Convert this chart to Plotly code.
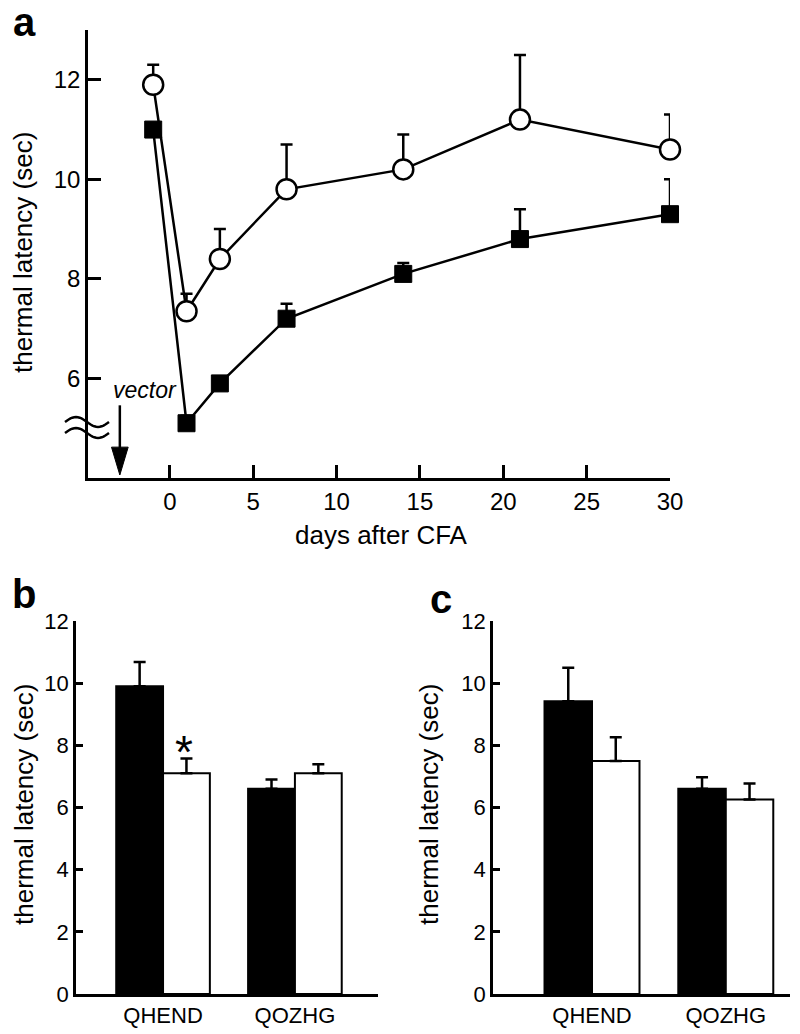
import numpy as np
import plotly.graph_objects as go

# ---------------- data ----------------
days = [-1, 1, 3, 7, 14, 21, 30]
open_mean = [11.9, 7.35, 8.4, 9.8, 10.2, 11.2, 10.6]
open_sem = [0.4, 0.35, 0.6, 0.9, 0.7, 1.3, 0.7]
filled_mean = [11.0, 5.1, 5.9, 7.2, 8.1, 8.8, 9.3]
filled_sem = [0.1, 0.15, 0.1, 0.3, 0.22, 0.6, 0.7]
vector_day = -3

x_ticks_a = [0, 5, 10, 15, 20, 25, 30]
y_ticks_a = [6, 8, 10, 12]
y_ticks_bc = [0, 2, 4, 6, 8, 10, 12]

categories = ["QHEND", "QOZHG"]
b_black = [9.9, 6.6]
b_black_sem = [0.78, 0.3]
b_white = [7.1, 7.1]
b_white_sem = [0.48, 0.29]
c_black = [9.42, 6.6]
c_black_sem = [1.08, 0.37]
c_white = [7.5, 6.26]
c_white_sem = [0.76, 0.51]

# the page body has an 8px margin, so the figure is drawn 8px in from the window edge
OFF = 8
W, H = 800 - OFF, 1034 - OFF
FONT = "Liberation Sans, Arial, Helvetica, sans-serif"


def px(x):
    return (x - OFF) / W


def py(y):
    return 1 - (y - OFF) / H


fig = go.Figure()

# ---------------- panel a ----------------
fig.add_trace(go.Scatter(
    x=days, y=open_mean, mode="lines+markers", xaxis="x", yaxis="y",
    line=dict(color="black", width=2.5),
    marker=dict(symbol="circle", size=20, color="white", line=dict(color="black", width=2.5)),
    error_y=dict(type="data", symmetric=False, array=open_sem, arrayminus=[0] * len(days),
                 color="black", thickness=2.5, width=6),
    cliponaxis=False, name="open"))
fig.add_trace(go.Scatter(
    x=days, y=filled_mean, mode="lines+markers", xaxis="x", yaxis="y",
    line=dict(color="black", width=2.5),
    marker=dict(symbol="square", size=17, color="black", line=dict(color="black", width=1)),
    error_y=dict(type="data", symmetric=False, array=filled_sem, arrayminus=[0] * len(days),
                 color="black", thickness=2.5, width=6),
    cliponaxis=False, name="filled"))

# ---------------- panels b, c ----------------
def add_bars(xa, ya, black, black_sem, white, white_sem):
    fig.add_trace(go.Bar(
        x=categories, y=black, xaxis=xa, yaxis=ya, offsetgroup="1",
        marker=dict(color="black", line=dict(color="black", width=2)),
        error_y=dict(type="data", symmetric=False, array=black_sem, arrayminus=[0, 0],
                     color="black", thickness=2.5, width=6),
        cliponaxis=False))
    fig.add_trace(go.Bar(
        x=categories, y=white, xaxis=xa, yaxis=ya, offsetgroup="2",
        marker=dict(color="white", line=dict(color="black", width=2)),
        error_y=dict(type="data", symmetric=False, array=white_sem, arrayminus=[0, 0],
                     color="black", thickness=2.5, width=6),
        cliponaxis=False))


add_bars("x2", "y2", b_black, b_black_sem, b_white, b_white_sem)
add_bars("x3", "y3", c_black, c_black_sem, c_white, c_white_sem)

axis_common = dict(showline=True, linewidth=2.5, linecolor="black", showgrid=False,
                   zeroline=False, mirror=False, tickcolor="black", tickwidth=2.5,
                   automargin=False)

fig.update_layout(
    width=W, height=H, margin=dict(l=0, r=0, t=0, b=0, pad=0, autoexpand=False),
    paper_bgcolor="white", plot_bgcolor="white", showlegend=False,
    font=dict(family=FONT, color="black"),
    barmode="group", bargap=0.29, bargroupgap=0,
    xaxis=dict(domain=[px(88), px(670)], range=[-4.91, 30], tickvals=x_ticks_a,
               ticks="inside", ticklen=13, tickfont=dict(size=24), anchor="y",
               ticklabelstandoff=0, **axis_common),
    yaxis=dict(domain=[py(478), py(30)], range=[4, 13], tickvals=y_ticks_a,
               ticks="inside", ticklen=13, tickfont=dict(size=24), anchor="x",
               ticklabelstandoff=0, **axis_common),
    xaxis2=dict(domain=[px(76), px(378)], range=[-0.66, 1.63], type="category",
                ticks="", tickfont=dict(size=22), anchor="y2", ticklabelstandoff=0,
                **axis_common),
    yaxis2=dict(domain=[py(994), py(621)], range=[0, 12], tickvals=y_ticks_bc,
                ticks="inside", ticklen=7, tickfont=dict(size=22), anchor="x2",
                ticklabelstandoff=0, **axis_common),
    xaxis3=dict(domain=[px(493), px(790)], range=[-0.74, 1.48], type="category",
                ticks="", tickfont=dict(size=22), anchor="y3", ticklabelstandoff=0,
                **axis_common),
    yaxis3=dict(domain=[py(994), py(621)], range=[0, 12], tickvals=y_ticks_bc,
                ticks="inside", ticklen=7, tickfont=dict(size=22), anchor="x3",
                ticklabelstandoff=0, **axis_common),
)

ann = []
# axis titles
ann.append(dict(text="thermal latency (sec)", x=px(23), y=py(253), xref="paper", yref="paper",
                textangle=-90, showarrow=False, font=dict(size=26), xanchor="center", yanchor="middle"))
ann.append(dict(text="days after CFA", x=px(381), y=py(535), xref="paper", yref="paper",
                showarrow=False, font=dict(size=26), xanchor="center", yanchor="middle"))
ann.append(dict(text="thermal latency (sec)", x=px(24), y=py(805), xref="paper", yref="paper",
                textangle=-90, showarrow=False, font=dict(size=26), xanchor="center", yanchor="middle"))
ann.append(dict(text="thermal latency (sec)", x=px(429), y=py(805), xref="paper", yref="paper",
                textangle=-90, showarrow=False, font=dict(size=26), xanchor="center", yanchor="middle"))
# panel letters
for t, x, y in [("a", 24, 22), ("b", 24, 594), ("c", 441, 599)]:
    ann.append(dict(text="<b>%s</b>" % t, x=px(x), y=py(y), xref="paper", yref="paper",
                    showarrow=False, font=dict(size=40), xanchor="center", yanchor="middle"))
# vector label
ann.append(dict(text="<i>vector</i>", x=vector_day + 1.5, y=5.76, xref="x", yref="y",
                showarrow=False, font=dict(size=23), xanchor="center", yanchor="middle"))
# asterisk
ann.append(dict(text="*", x=0.16, y=7.8, xref="x2", yref="y2", showarrow=False,
                font=dict(size=46), xanchor="center", yanchor="middle"))
fig.update_layout(annotations=ann)

# decorations: vector arrow and axis break
shapes = []
shapes.append(dict(type="line", xref="x", yref="y", x0=vector_day, x1=vector_day, y0=5.46, y1=4.6,
                   line=dict(color="black", width=2.5)))
shapes.append(dict(type="path", xref="x", yref="y",
                   path="M %f,4.62 L %f,4.62 L %f,4.06 Z" % (vector_day - 0.5, vector_day + 0.5, vector_day),
                   fillcolor="black", line=dict(color="black", width=1)))
t = np.linspace(0, 1, 25)
for yc in (422, 433):
    xs = 65 + 44 * t
    ys = yc - 5 * np.sin(2 * np.pi * t)
    path = "M " + " L ".join("%f,%f" % (px(a), py(b)) for a, b in zip(xs, ys))
    shapes.append(dict(type="path", xref="paper", yref="paper", path=path,
                       line=dict(color="black", width=2.5)))
fig.update_layout(shapes=shapes)

fig.write_html("out.html")
